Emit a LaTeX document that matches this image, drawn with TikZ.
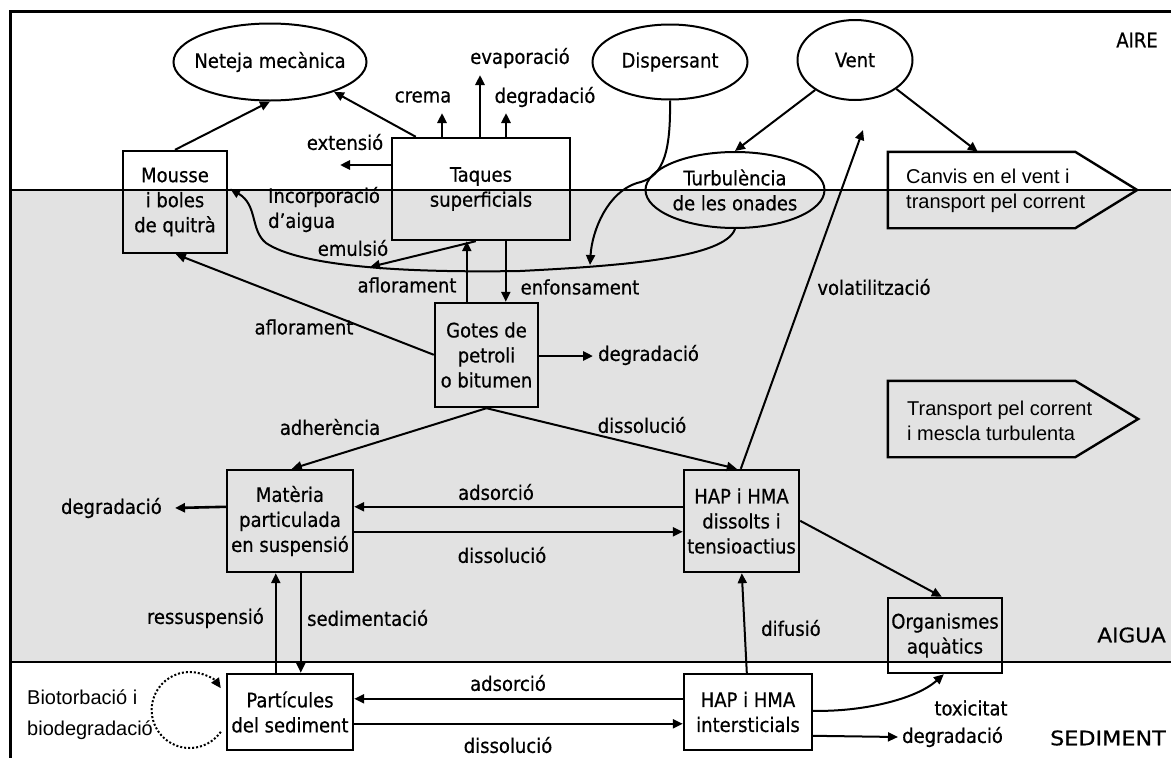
\documentclass[tikz,border=0pt]{standalone}
\usepackage{fontspec}
\setmainfont{DejaVu Sans Condensed}[FakeBold=0.6]
\newfontfamily\arialfont{Liberation Sans}
\usetikzlibrary{arrows.meta,shapes.geometric,calc}
\definecolor{watergray}{RGB}{226,226,226}
\begin{document}
\begin{tikzpicture}[x=1pt,y=-1pt,
  every node/.style={font=\fontsize{20}{25}\selectfont, inner sep=0pt},
  box/.style={draw, line width=2.4pt, align=center},
  oval/.style={draw, ellipse, line width=2pt},
  mytip/.style={-{Triangle[length=10pt,width=9pt]}},
  conn/.style={line width=2pt, mytip},
  stub/.style={line width=2.6pt, mytip},
  arialtxt/.style={font=\arialfont\fontsize{20}{25}\selectfont, align=left},
  zone/.style={font=\fontsize{20}{25}\selectfont},
]
\useasboundingbox (0,0) rectangle (1171,758);
\fill[white] (0,0) rectangle (1171,758);
\fill[watergray] (10,190) rectangle (1171,662);
\draw[line width=1.5pt] (10,190) -- (1171,190);
\draw[line width=1.5pt] (10,662) -- (1171,662);
\draw[line width=3pt] (10,758) -- (10,11.5) -- (1171,11.5);

% zone names
\node[zone, anchor=east] (aire) at (1158,40) {AIRE};
\node[zone, anchor=east] (aigua) at (1166,635) {\scalebox{1.2}[1]{AIGUA}};
\node[zone, anchor=east] (sediment) at (1166,738) {\scalebox{1.24}[1]{SEDIMENT}};

% ellipses
\node[oval, minimum width=193pt, minimum height=77pt, label={center:Neteja mecànica}] (neteja) at (270,62) {};
\node[oval, minimum width=155pt, minimum height=75pt, label={center:Dispersant}] (dispersant) at (670,62) {};
\node[oval, minimum width=115pt, minimum height=80pt, label={center:Vent}] (vent) at (855,60) {};
\node[oval, minimum width=179pt, minimum height=76pt, label={[align=center]center:{Turbulència\\de les onades}}] (turb) at (735,190) {};

% boxes
\node[box, minimum width=104pt, minimum height=102pt] (mousse) at (175,202) {Mousse\\i boles\\de quitrà};
\node[box, minimum width=178pt, minimum height=102pt] (taques) at (481,189) {Taques\\superficials};
\node[box, minimum width=103pt, minimum height=104pt] (gotes) at (486.5,355) {Gotes de\\petroli\\o bitumen};
\node[box, minimum width=126pt, minimum height=102pt] (materia) at (290,521) {Matèria\\particulada\\en suspensió};
\node[box, minimum width=115pt, minimum height=102pt] (hapd) at (741.5,521) {HAP i HMA\\dissolts i\\tensioactius};
\node[box, minimum width=114pt, minimum height=75pt] (organ) at (945,635.5) {Organismes\\aquàtics};
\node[box, minimum width=126pt, minimum height=76pt] (part) at (290,712) {Partícules\\del sediment};
\node[box, minimum width=128pt, minimum height=76pt] (hapi) at (748,712) {HAP i HMA\\intersticials};

% arrow-shaped boxes
\node[minimum width=187pt, minimum height=76pt] (canvis) at (981.5,190) {};
\draw[line width=2.4pt] (canvis.north west) -- (canvis.north east) -- ($(canvis.east)+(62,0)$) -- (canvis.south east) -- (canvis.south west) -- cycle;
\node[arialtxt, anchor=west] (canvistxt) at (906,190.5) {Canvis en el vent i\\transport pel corrent};
\node[minimum width=187pt, minimum height=76pt] (transp) at (981.5,419) {};
\draw[line width=2.4pt] (transp.north west) -- (transp.north east) -- ($(transp.east)+(63,0)$) -- (transp.south east) -- (transp.south west) -- cycle;
\node[arialtxt, anchor=west] (transptxt) at (907,420.5) {Transport pel corrent\\i mescla turbulenta};

% free ends
\coordinate (cremaT) at (442,113);
\coordinate (evapT) at (480,75);
\coordinate (degr1T) at (506,113);
\coordinate (extT) at (340,165);
\coordinate (dispT) at (590,265);
\coordinate (emT) at (370,267);
\coordinate (degr2T) at (593,356);
\coordinate (volT) at (863,130);
\coordinate (degr3T) at (175,508);
\coordinate (degr4T) at (898,737);

% air arrows from Taques
\draw[stub] (taques.north -| cremaT) -- (cremaT);
\draw[stub] (taques.north -| evapT) -- (evapT);
\draw[stub] (taques.north -| degr1T) -- (degr1T);
\draw[stub] (taques.west |- extT) -- (extT);
\node (crema) at (423,97) {crema};
\node (evap) at (520,58) {evaporació};
\node (degr1) at (545,97) {degradació};
\node (ext) at (345,142) {extensió};

\draw[conn] ($(taques.north west)+(25,0)$) -- (neteja.-25);
\draw[conn] (mousse.north) -- (neteja.south);

% wind
\draw[conn] (vent.217) -- (turb.north);
\draw[conn] (vent.-35) -- ($(canvis.north west)+(90,0)$);

% dispersant
\draw[conn] (dispersant.south) .. controls (671,160) and (660,178) .. (637,183) .. controls (608,192) and (592,230) .. (dispT);

% turbulence -> mousse (incorporation of water)
\draw[conn] (turb.south) .. controls (725,258) and (620,266) .. (520,271) .. controls (400,273) and (300,266) .. (266,243) .. controls (250,230) and (258,205) .. ($(mousse.north east)+(2,39)$);
\node[align=left, anchor=west] (incorp) at (268,209.5) {Incorporació\\d’aigua};

% emulsion
\draw[conn] ($(taques.south west)+(85,0)$) -- (emT);
\node (emuls) at (353,248) {emulsió};

% gotes <-> taques
\draw[conn] ($(gotes.north west)+(33,0)$) -- ($(taques.south west)+(76,0)$);
\draw[conn] ($(taques.south west)+(115,0)$) -- ($(gotes.north west)+(72,0)$);
\node (aflor1) at (407,285) {aflorament};
\node (enfons) at (580,287) {enfonsament};

\draw[stub] (gotes.east |- degr2T) -- (degr2T);
\node[anchor=west] (degr2) at (598,355) {degradació};

\draw[conn] ($(gotes.north west)+(0,53)$) -- ($(mousse.south west)+(54,0)$);
\node (aflor2) at (304,327) {aflorament};

\draw[conn] (gotes.south) -- ($(materia.north west)+(66,0)$);
\node (adher) at (330,427) {adherència};
\draw[conn] (gotes.south) -- ($(hapd.north west)+(54,0)$);
\node (dissol1) at (642,425) {dissolució};

\draw[conn] ($(hapd.north west)+(58,0)$) -- (volT);
\node (volat) at (874,287) {volatilització};

% water column exchanges
\draw[conn] ($(hapd.north west)+(0,38)$) -- ($(materia.north east)+(0,38)$);
\node (adsor1) at (496,492) {adsorció};
\draw[conn] ($(materia.north east)+(0,63)$) -- ($(hapd.north west)+(0,63)$);
\node (dissol2) at (502,555) {dissolució};

\draw[stub] ($(materia.north west)+(0,38)$) -- (degr3T);
\node[anchor=east] (degr3) at (162,508) {degradació};

\draw[conn] ($(hapd.north east)+(0,52)$) -- ($(organ.north west)+(55,0)$);

% water <-> sediment
\draw[conn] ($(part.north west)+(50,0)$) -- ($(materia.south west)+(50,0)$);
\node[anchor=east] (ressusp) at (264,618) {ressuspensió};
\draw[conn] ($(materia.south west)+(75,0)$) -- ($(part.north west)+(75,0)$);
\node[anchor=west] (sedim) at (307,618) {sedimentació};

\draw[conn] ($(hapi.north west)+(64,0)$) -- ($(hapd.south west)+(59,0)$);
\node[anchor=west] (difus) at (761,628) {difusió};

% sediment exchanges
\draw[conn] ($(hapi.north west)+(0,26)$) -- ($(part.north east)+(0,26)$);
\node (adsor2) at (508,683) {adsorció};
\draw[conn] ($(part.north east)+(0,51)$) -- ($(hapi.north west)+(0,51)$);
\node (dissol3) at (508,745) {dissolució};

\draw[conn] ($(hapi.north east)+(0,38)$) .. controls (860,712) and (915,700) .. ($(organ.south west)+(57,0)$);
\node (toxic) at (971,708) {toxicitat};
\draw[conn] ($(hapi.north east)+(0,63)$) -- (degr4T);
\node[anchor=west] (degr4) at (902,737) {degradació};

% bioturbation loop
\coordinate (bioS) at ($(part.north west)+(-5,59)$);
\draw[line width=2pt, dotted, mytip] (bioS) arc[start angle=35, end angle=325, radius=38];
\node[arialtxt, anchor=west] (bio1) at (27,697) {Biotorbació i};
\node[arialtxt, anchor=west] (bio2) at (27,730) {biodegradació};
\end{tikzpicture}
\end{document}
